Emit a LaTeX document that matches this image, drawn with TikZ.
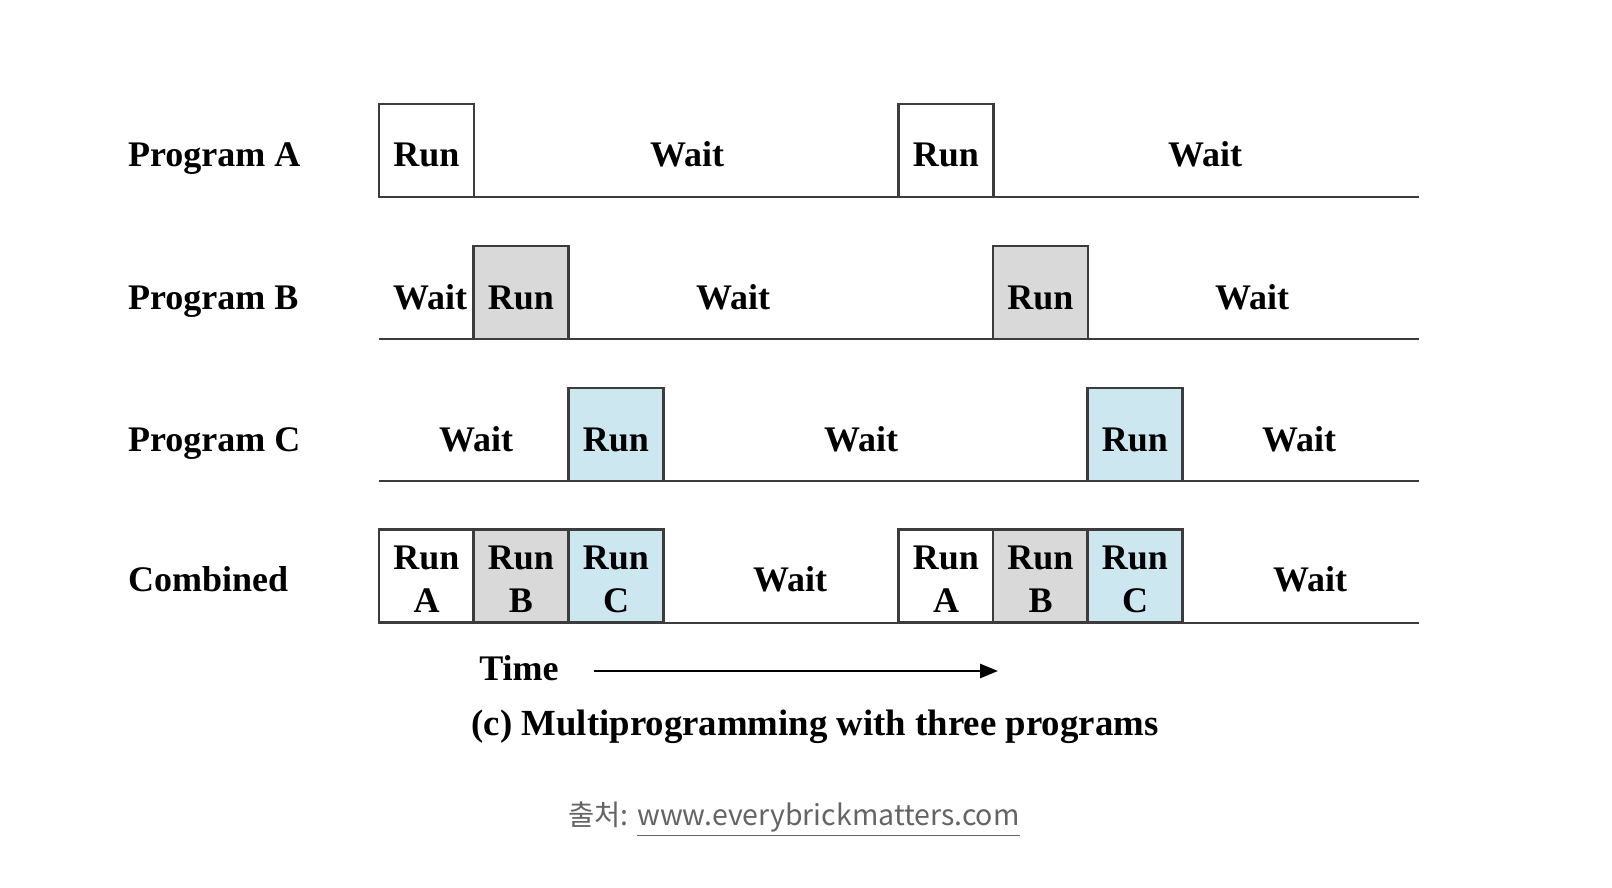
\documentclass[tikz,border=0pt]{standalone}
\usepackage{fontspec}
\setmainfont{Liberation Serif}
\newfontfamily\krfont{Noto Sans CJK KR}
\usetikzlibrary{arrows.meta}
\definecolor{runGrey}{RGB}{217,217,217}
\definecolor{runBlue}{RGB}{205,231,241}
\definecolor{lineGrey}{RGB}{60,60,60}
\definecolor{srcGrey}{RGB}{100,100,100}
\newcommand{\twoline}[2]{\begin{tabular}[t]{@{}c@{}}#1\\#2\end{tabular}}
\tikzset{
    lbl/.style={font=\fontsize{18}{21.5}\selectfont\bfseries},
    runbox/.style={lbl, draw=lineGrey, line width=1.4pt, fill=white, inner sep=0pt,
        minimum width=47.5pt, minimum height=46.5pt,
        text height=16.5pt, text depth=0pt},
    runtwo/.style={text height=15pt, text depth=21.5pt},
    runB/.style={runbox, fill=runGrey},
    runC/.style={runbox, fill=runBlue},
    base/.style={draw=lineGrey, line width=1.4pt}
}
\begin{document}
\begin{tikzpicture}[x=0.5pt,y=-0.5pt]
    \useasboundingbox (0,0) rectangle (1612,888);

    % base lines
    \coordinate (aL) at (379,197); \coordinate (aR) at (1419,197);
    \coordinate (bL) at (379,339); \coordinate (bR) at (1419,339);
    \coordinate (cL) at (379,481); \coordinate (cR) at (1419,481);
    \coordinate (dL) at (379,623); \coordinate (dR) at (1419,623);
    \draw[base] (aL) -- (aR);
    \draw[base] (bL) -- (bR);
    \draw[base] (cL) -- (cR);
    \draw[base] (dL) -- (dR);

    % row labels
    \node[lbl, anchor=base west] (progA) at (121,167) {Program A};
    \node[lbl, anchor=base west] (progB) at (121,309) {Program B};
    \node[lbl, anchor=base west] (progC) at (121,451) {Program C};
    \node[lbl, anchor=base west] (comb) at (121,591) {Combined};

    % program A
    \node[runbox] (a-1) at (426.5,150.5) {Run};
    \node[lbl, anchor=base] (a-w1) at (687,167) {Wait};
    \node[runbox] (a-2) at (946,150.5) {Run};
    \node[lbl, anchor=base] (a-w2) at (1205,167) {Wait};

    % program B
    \node[lbl, anchor=base] (b-w1) at (430,309) {Wait};
    \node[runB] (b-1) at (521,292.5) {Run};
    \node[lbl, anchor=base] (b-w2) at (733,309) {Wait};
    \node[runB] (b-2) at (1040.5,292.5) {Run};
    \node[lbl, anchor=base] (b-w3) at (1252,309) {Wait};

    % program C
    \node[lbl, anchor=base] (c-w1) at (476,451) {Wait};
    \node[runC] (c-1) at (616,434.5) {Run};
    \node[lbl, anchor=base] (c-w2) at (861,451) {Wait};
    \node[runC] (c-2) at (1135,434.5) {Run};
    \node[lbl, anchor=base] (c-w3) at (1299,451) {Wait};

    % combined
    \node[runbox, runtwo] (d-a1) at (426.5,576) {\twoline{Run}{A}};
    \node[runB, runtwo] (d-b1) at (521,576) {\twoline{Run}{B}};
    \node[runC, runtwo] (d-c1) at (616,576) {\twoline{Run}{C}};
    \node[lbl, anchor=base] (d-w1) at (790,591) {Wait};
    \node[runbox, runtwo] (d-a2) at (946,576) {\twoline{Run}{A}};
    \node[runB, runtwo] (d-b2) at (1040.5,576) {\twoline{Run}{B}};
    \node[runC, runtwo] (d-c2) at (1135,576) {\twoline{Run}{C}};
    \node[lbl, anchor=base] (d-w2) at (1310,591) {Wait};

    % time axis
    \node[lbl] (time) at (519,668) {Time};
    \coordinate (t0) at (594,671);
    \coordinate (t1) at (998,671);
    \draw[line width=1.4pt, -{Triangle[length=9pt,width=7pt]}] (t0) -- (t1);

    \node[lbl, font=\fontsize{18.4}{21.5}\selectfont\bfseries] (caption) at (815,727)
        {(c) Multiprogramming with three programs};
    \node[font=\krfont\fontsize{14.25}{16}\selectfont, text=srcGrey] (src) at (794,819)
        {출처: \underline{www.everybrickmatters.com}};
\end{tikzpicture}
\end{document}
